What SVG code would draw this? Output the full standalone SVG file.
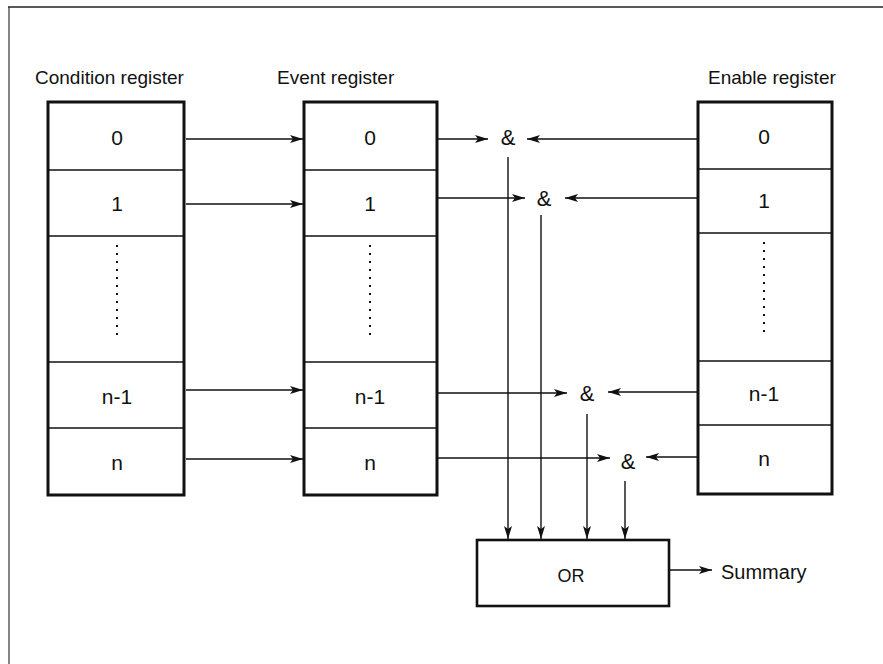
<svg xmlns="http://www.w3.org/2000/svg" width="883" height="664" viewBox="0 0 883 664">
<defs>
<marker id="ah" markerWidth="14" markerHeight="8" refX="13" refY="4" orient="auto" markerUnits="userSpaceOnUse">
<path d="M0,0 L13,4 L0,8 L3,4 Z" fill="#111"/>
</marker>
</defs>
<style>
.reg{fill:#fff;stroke:#111;stroke-width:3}
.div{stroke:#111;stroke-width:1.6}
.dot{stroke:#111;stroke-width:2;stroke-dasharray:2 6}
.ln{stroke:#111;stroke-width:1.4;fill:none}
.ar{stroke:#111;stroke-width:1.4;fill:none;marker-end:url(#ah)}
text{font-family:"Liberation Sans",Arial,sans-serif;fill:#111}
.lbl{font-size:19px}
.cell{font-size:21px;text-anchor:middle;dominant-baseline:central}
.amp{font-size:22px;text-anchor:middle;dominant-baseline:central}
</style>
<rect width="883" height="664" fill="#fff"/>
<g id="frame">
<line x1="8" y1="7" x2="883" y2="7" stroke="#222" stroke-width="1.4"/>
<line x1="9" y1="7" x2="9" y2="664" stroke="#333" stroke-width="1.2"/>
</g>
<g id="labels">
<text class="lbl" x="35" y="84">Condition register</text>
<text class="lbl" x="277" y="84">Event register</text>
<text class="lbl" x="708" y="84">Enable register</text>
</g>
<g id="condition-register">
<rect class="reg" x="48" y="102" width="136" height="393"/>
<line class="div" x1="48" y1="170" x2="184" y2="170"/>
<line class="div" x1="48" y1="236" x2="184" y2="236"/>
<line class="div" x1="48" y1="362" x2="184" y2="362"/>
<line class="div" x1="48" y1="428" x2="184" y2="428"/>
<text class="cell" x="117" y="137">0</text>
<text class="cell" x="117" y="203">1</text>
<line class="dot" x1="117" y1="245" x2="117" y2="340"/>
<text class="cell" x="117" y="396">n-1</text>
<text class="cell" x="117" y="462">n</text>
</g>
<g id="event-register">
<rect class="reg" x="304" y="102" width="133" height="393"/>
<line class="div" x1="304" y1="170" x2="437" y2="170"/>
<line class="div" x1="304" y1="236" x2="437" y2="236"/>
<line class="div" x1="304" y1="362" x2="437" y2="362"/>
<line class="div" x1="304" y1="428" x2="437" y2="428"/>
<text class="cell" x="370" y="137">0</text>
<text class="cell" x="370" y="203">1</text>
<line class="dot" x1="370" y1="245" x2="370" y2="340"/>
<text class="cell" x="370" y="396">n-1</text>
<text class="cell" x="370" y="462">n</text>
</g>
<g id="enable-register">
<rect class="reg" x="698" y="102" width="134" height="392"/>
<line class="div" x1="698" y1="169" x2="832" y2="169"/>
<line class="div" x1="698" y1="233" x2="832" y2="233"/>
<line class="div" x1="698" y1="361" x2="832" y2="361"/>
<line class="div" x1="698" y1="425" x2="832" y2="425"/>
<text class="cell" x="764" y="136">0</text>
<text class="cell" x="764" y="200">1</text>
<line class="dot" x1="764" y1="242" x2="764" y2="336"/>
<text class="cell" x="764" y="393">n-1</text>
<text class="cell" x="764" y="458">n</text>
</g>
<g id="and-gates">
<text class="amp" x="508" y="137">&amp;</text>
<text class="amp" x="544" y="198">&amp;</text>
<text class="amp" x="587" y="393">&amp;</text>
<text class="amp" x="628" y="461">&amp;</text>
</g>
<g id="or-gate">
<rect x="477" y="540" width="192" height="66" fill="#fff" stroke="#111" stroke-width="2.6"/>
<text x="571" y="576" font-size="18" text-anchor="middle" dominant-baseline="central">OR</text>
</g>
<g id="summary">
<text x="721" y="572" font-size="20" dominant-baseline="central">Summary</text>
</g>
<g id="connectors">
<line class="ar" x1="186" y1="139" x2="303" y2="139"/>
<line class="ar" x1="186" y1="204" x2="303" y2="204"/>
<line class="ar" x1="186" y1="390" x2="303" y2="390"/>
<line class="ar" x1="186" y1="459" x2="303" y2="459"/>
<line class="ar" x1="438" y1="139" x2="488" y2="139"/>
<line class="ar" x1="438" y1="198" x2="525" y2="198"/>
<line class="ar" x1="438" y1="393" x2="567" y2="393"/>
<line class="ar" x1="438" y1="458" x2="610" y2="458"/>
<line class="ar" x1="697" y1="139" x2="527" y2="139"/>
<line class="ar" x1="697" y1="198" x2="565" y2="198"/>
<line class="ar" x1="697" y1="392" x2="608" y2="392"/>
<line class="ar" x1="697" y1="457" x2="646" y2="457"/>
<line class="ar" x1="508" y1="157" x2="508" y2="539"/>
<line class="ar" x1="541" y1="215" x2="541" y2="539"/>
<line class="ar" x1="587" y1="414" x2="587" y2="539"/>
<line class="ar" x1="625" y1="481" x2="625" y2="539"/>
<line class="ar" x1="670" y1="570" x2="712" y2="570"/>
</g>
</svg>
